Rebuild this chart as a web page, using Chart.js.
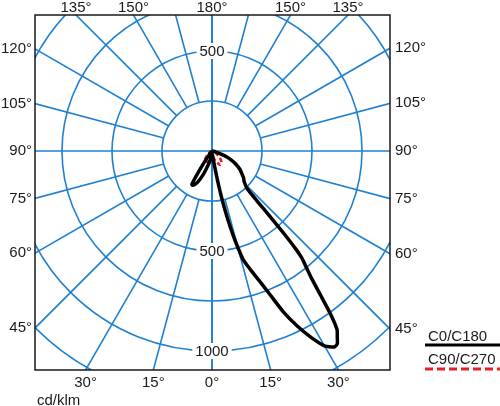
<!DOCTYPE html>
<html>
<head>
<meta charset="utf-8">
<script src="https://cdn.jsdelivr.net/npm/chart.js@4.4.1/dist/chart.umd.min.js"></script>
<style>
  html, body { margin: 0; padding: 0; background: #fff; }
  #wrap { width: 500px; height: 406px; }
</style>
</head>
<body>
<div id="wrap"><canvas id="ldc" width="500" height="406"></canvas></div>
<script>
// Light distribution, cd/klm, gamma measured from nadir (degrees)
const c0Angles = [0, 5, 8, 10, 11, 12, 13, 14, 15, 16, 18, 20, 22, 24, 26, 28, 30, 32, 33, 34,
    35, 36, 37, 38, 39, 40, 40.5, 41, 41.5, 42, 43, 46, 50, 53, 57, 62, 65, 68, 71, 75, 80, 90];
const c0Values = [15, 18, 30, 100, 180, 270, 350, 430, 500, 565, 625, 690, 775, 885, 975, 1055, 1125, 1155, 1150, 1120,
    1090, 1010, 900, 810, 750, 700, 650, 560, 440, 340, 260, 225, 205, 186, 165, 130, 105, 80, 45, 20, 8, 0];

const c180Angles = [0, 5, 10, 15, 20, 25, 28, 30, 31, 32, 33, 34, 35, 36, 38, 40, 45, 60, 90];
const c180Values = [15, 25, 45, 70, 120, 175, 192, 197, 195, 165, 115, 75, 45, 30, 18, 12, 5, 0, 0];

const c90Angles = [0, 10, 20, 30, 40, 50, 60, 70, 90];
const c90Values = [15, 30, 55, 80, 75, 50, 25, 10, 0];

const c270Angles = [0, 10, 20, 30, 40, 50, 60, 90];
const c270Values = [15, 30, 55, 62, 55, 30, 12, 0];

// grid
const ringValues = [250, 500, 750, 1000, 1250];
const spokeAngles = [0, 15, 30, 45, 60, 75, 90, 105, 120, 135, 150, 165, 180];
const ringLabelValues = [500, 500, 1000];
const ringLabelAngles = [180, 0, 0];
const edgeLabelAngles = [0, 15, 30, 45, 60, 75, 90, 105, 120, 135, 150, 180];

const gridBlue = '#1f80d2';
const textColor = '#1a1a1a';
const font = '15px "Liberation Sans", Arial, sans-serif';

function toPoints(angles, values, side) {
    return angles.map((g, i) => {
        const rad = g * Math.PI / 180;
        return { x: side * values[i] * Math.sin(rad), y: -values[i] * Math.cos(rad) };
    });
}

// left half-plane from 90 down to 0, then right half-plane 0 -> 90
function loop(leftAngles, leftValues, rightAngles, rightValues) {
    const left = toPoints(leftAngles, leftValues, -1).reverse();
    const right = toPoints(rightAngles, rightValues, 1).slice(1);
    return left.concat(right);
}

const polarGrid = {
    id: 'polarGrid',
    beforeDatasetsDraw(chart) {
        const { ctx, chartArea: a, scales: { x, y } } = chart;
        const cx = x.getPixelForValue(0), cy = y.getPixelForValue(0);
        const px = v => x.getPixelForValue(v) - cx;

        ctx.save();
        ctx.beginPath();
        ctx.rect(a.left, a.top, a.right - a.left, a.bottom - a.top);
        ctx.clip();
        ctx.strokeStyle = gridBlue;
        ctx.lineWidth = 1.6;

        ringValues.forEach(v => {
            ctx.beginPath();
            ctx.arc(cx, cy, px(v), 0, Math.PI * 2);
            ctx.stroke();
        });

        spokeAngles.forEach(g => {
            const r0 = g % 90 === 0 ? 0 : px(ringValues[0]);
            const sx = Math.sin(g * Math.PI / 180), sy = Math.cos(g * Math.PI / 180);
            [1, -1].forEach(s => {
                ctx.beginPath();
                ctx.moveTo(cx + s * sx * r0, cy + sy * r0);
                ctx.lineTo(cx + s * sx * 1000, cy + sy * 1000);
                ctx.stroke();
            });
        });

        // intensity labels on the vertical axis
        ctx.font = font;
        ctx.textAlign = 'center';
        ctx.textBaseline = 'middle';
        ringLabelValues.forEach((v, i) => {
            const ty = cy + Math.cos(ringLabelAngles[i] * Math.PI / 180) * px(v);
            const w = ctx.measureText(String(v)).width;
            ctx.fillStyle = '#fff';
            ctx.fillRect(cx - w / 2 - 3, ty - 8, w + 6, 16);
            ctx.fillStyle = textColor;
            ctx.fillText(String(v), cx, ty + 1);
        });
        ctx.restore();
    },
    afterDraw(chart) {
        const { ctx, chartArea: a, scales: { x, y } } = chart;
        const cx = x.getPixelForValue(0), cy = y.getPixelForValue(0);

        ctx.save();
        ctx.strokeStyle = '#1a1a1a';
        ctx.lineWidth = 1.5;
        ctx.strokeRect(a.left, a.top, a.right - a.left, a.bottom - a.top);

        ctx.font = font;
        ctx.fillStyle = textColor;
        ctx.textBaseline = 'middle';

        // angle labels where the spokes meet the frame
        edgeLabelAngles.forEach(g => {
            const sides = (g === 0 || g === 180) ? [1] : [1, -1];
            sides.forEach(s => {
                const dx = s * Math.sin(g * Math.PI / 180), dy = Math.cos(g * Math.PI / 180);
                const tx = Math.abs(dx) < 1e-9 ? Infinity : (dx > 0 ? a.right - cx : a.left - cx) / dx;
                const ty = Math.abs(dy) < 1e-9 ? Infinity : (dy > 0 ? a.bottom - cy : a.top - cy) / dy;
                const label = g + '°';
                if (tx < ty) {
                    const py = cy + dy * tx;
                    if (dx > 0) { ctx.textAlign = 'left'; ctx.fillText(label, a.right + 5, py); }
                    else { ctx.textAlign = 'right'; ctx.fillText(label, a.left - 3, py); }
                } else {
                    const ppx = cx + dx * ty;
                    ctx.textAlign = 'center';
                    ctx.fillText(label, ppx, dy > 0 ? a.bottom + 13 : a.top - 7);
                }
            });
        });

        ctx.textAlign = 'left';
        ctx.fillText('cd/klm', 37, 401);

        // legend
        ctx.fillText('C0/C180', 428, 337);
        ctx.fillText('C90/C270', 428, 360);
        ctx.lineWidth = 3;
        ctx.strokeStyle = '#000';
        ctx.beginPath();
        ctx.moveTo(425, 345);
        ctx.lineTo(500, 345);
        ctx.stroke();
        ctx.strokeStyle = '#e31e24';
        ctx.setLineDash([8, 4]);
        ctx.beginPath();
        ctx.moveTo(425, 369);
        ctx.lineTo(500, 369);
        ctx.stroke();
        ctx.restore();
    }
};

new Chart(document.getElementById('ldc'), {
    type: 'scatter',
    data: {
        datasets: [{
            label: 'C0/C180',
            data: loop(c180Angles, c180Values, c0Angles, c0Values),
            showLine: true,
            borderColor: '#000',
            borderWidth: 3.5,
            pointRadius: 0,
            tension: 0.2,
        }, {
            label: 'C90/C270',
            data: loop(c270Angles, c270Values, c90Angles, c90Values),
            showLine: true,
            borderColor: '#e31e24',
            borderWidth: 2.5,
            borderDash: [4, 3],
            pointRadius: 0,
            tension: 0.2,
        }]
    },
    options: {
        responsive: false,
        animation: false,
        layout: { padding: { left: 35, top: 15, right: 110, bottom: 36 } },
        scales: {
            x: { type: 'linear', min: -885, max: 890, display: false },
            y: { type: 'linear', min: -1095, max: 680, display: false }
        },
        plugins: {
            legend: { display: false },
            tooltip: { enabled: false }
        }
    },
    plugins: [polarGrid]
});
</script>
</body>
</html>
